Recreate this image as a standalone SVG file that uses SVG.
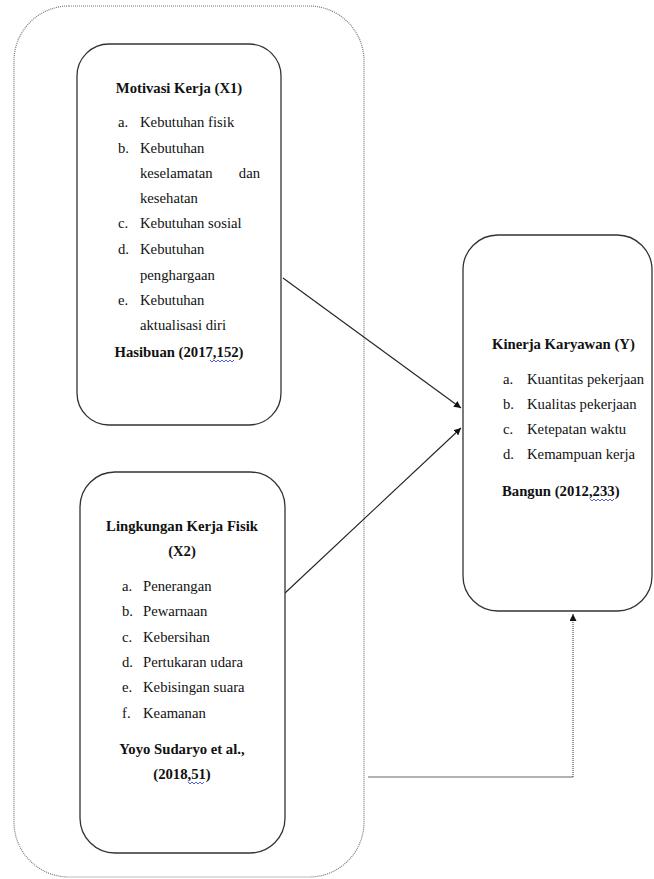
<svg xmlns="http://www.w3.org/2000/svg" width="654" height="879" viewBox="0 0 654 879">
<style>
.box{fill:#fff;stroke:#333;stroke-width:1.3}
.outer{fill:none;stroke:#777;stroke-width:1.2;stroke-dasharray:1 1}
.t{font-family:"Liberation Serif","Times New Roman",serif;font-size:14.7px;fill:#111}
.b{font-weight:bold}
.c{text-anchor:middle}
.e{text-anchor:end}
.sq{fill:none;stroke:#3a4fd0;stroke-width:0.9}
.ln{fill:none;stroke:#222;stroke-width:1.1}
</style>
<defs>
<marker id="ah" viewBox="0 0 10 10" refX="10" refY="5" markerWidth="7" markerHeight="7" markerUnits="userSpaceOnUse" orient="auto">
<path d="M0,0 L10,5 L0,10 Z" fill="#111"/>
</marker>
</defs>
<rect width="654" height="879" fill="#fff"/>
<g id="outer-group">
<rect class="outer" x="14" y="6" width="350" height="871" rx="55" ry="55"/>
</g>
<g id="connectors">
<line class="ln" x1="283" y1="278" x2="461" y2="408" marker-end="url(#ah)"/>
<line class="ln" x1="285" y1="593" x2="461" y2="428" marker-end="url(#ah)"/>
<path d="M368,777 H573" fill="none" stroke="#999" stroke-width="1.3"/>
<path d="M573,777 V614" fill="none" stroke="#444" stroke-width="1.1" stroke-dasharray="1 1" marker-end="url(#ah)"/>
</g>
<g id="node-x1">
<rect class="box" x="77" y="44" width="204" height="381" rx="32" ry="32"/>
<text class="t b c" x="179" y="93">Motivasi Kerja (X1)</text>
<text class="t" x="118" y="127">a.</text><text class="t" x="140" y="127">Kebutuhan fisik</text>
<text class="t" x="118" y="153">b.</text><text class="t" x="140" y="153">Kebutuhan</text>
<text class="t" x="140" y="178">keselamatan</text><text class="t e" x="260" y="178">dan</text>
<text class="t" x="140" y="203">kesehatan</text>
<text class="t" x="118" y="228">c.</text><text class="t" x="140" y="228">Kebutuhan sosial</text>
<text class="t" x="118" y="254">d.</text><text class="t" x="140" y="254">Kebutuhan</text>
<text class="t" x="140" y="280">penghargaan</text>
<text class="t" x="118" y="305">e.</text><text class="t" x="140" y="305">Kebutuhan</text>
<text class="t" x="140" y="330">aktualisasi diri</text>
<text class="t b c" x="179" y="357">Hasibuan (2017,152)</text>
<path class="sq" d="M210,360 l2,2 l2,-2 l2,2 l2,-2 l2,2 l2,-2 l2,2 l2,-2 l2,2 l2,-2 l2,2 l2,-2"/>
</g>
<g id="node-x2">
<rect class="box" x="80" y="472" width="205" height="381" rx="35" ry="35"/>
<text class="t b c" x="182" y="531">Lingkungan Kerja Fisik</text>
<text class="t b c" x="182" y="556">(X2)</text>
<text class="t" x="122" y="591">a.</text><text class="t" x="143" y="591">Penerangan</text>
<text class="t" x="122" y="616">b.</text><text class="t" x="143" y="616">Pewarnaan</text>
<text class="t" x="122" y="642">c.</text><text class="t" x="143" y="642">Kebersihan</text>
<text class="t" x="122" y="667">d.</text><text class="t" x="143" y="667">Pertukaran udara</text>
<text class="t" x="122" y="692">e.</text><text class="t" x="143" y="692">Kebisingan suara</text>
<text class="t" x="122" y="718">f.</text><text class="t" x="143" y="718">Keamanan</text>
<text class="t b c" x="182" y="754">Yoyo Sudaryo et al.,</text>
<text class="t b c" x="182" y="779">(2018,51)</text>
<path class="sq" d="M188,782 l2,2 l2,-2 l2,2 l2,-2 l2,2 l2,-2 l2,2 l2,-2"/>
</g>
<g id="node-y">
<rect class="box" x="463" y="235" width="189" height="376" rx="35" ry="35"/>
<text class="t b" x="492" y="349">Kinerja Karyawan (Y)</text>
<text class="t" x="503" y="384">a.</text><text class="t" x="527" y="384">Kuantitas pekerjaan</text>
<text class="t" x="503" y="409">b.</text><text class="t" x="527" y="409">Kualitas pekerjaan</text>
<text class="t" x="503" y="434">c.</text><text class="t" x="527" y="434">Ketepatan waktu</text>
<text class="t" x="503" y="459">d.</text><text class="t" x="527" y="459">Kemampuan kerja</text>
<text class="t b" x="502" y="496">Bangun (2012,233)</text>
<path class="sq" d="M590,499 l2,2 l2,-2 l2,2 l2,-2 l2,2 l2,-2 l2,2 l2,-2 l2,2 l2,-2 l2,2 l2,-2"/>
</g>
</svg>
